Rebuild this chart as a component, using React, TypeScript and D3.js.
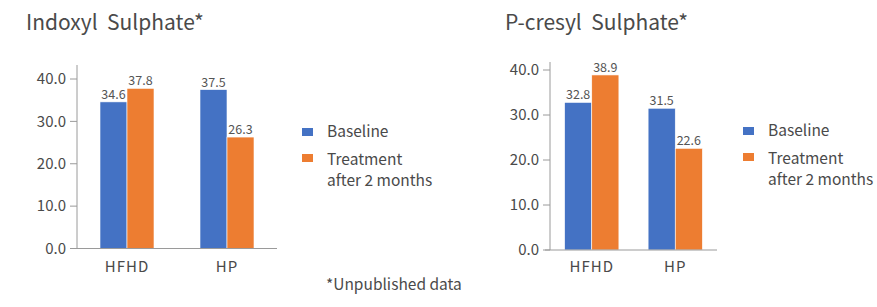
import React from "react";
import * as d3 from "d3";

const categories = ["HFHD", "HP"];
const seriesNames = ["Baseline", "Treatment after 2 months"];
const indoxylBaseline = [34.6, 37.5];
const indoxylTreatment = [37.8, 26.3];
const cresylBaseline = [32.8, 31.5];
const cresylTreatment = [38.9, 22.6];
const yTicks = [0, 10, 20, 30, 40];
const colors = ["#4472C4", "#ED7D31"];

const font = "'Noto Sans CJK SC', 'Noto Sans', sans-serif";
const textColor = "#4a4a4a";
const axisColor = "#9a9a9a";

type PanelProps = {
  title: string;
  titleX: number;
  baseline: number[];
  treatment: number[];
  xRange: [number, number];
  yRange: [number, number];
  axisTop: number;
  pad: number;
  legendX: number;
  legendY: number;
};

function Panel(p: PanelProps) {
  const x0 = d3
    .scaleBand()
    .domain(categories)
    .range(p.xRange)
    .paddingInner(p.pad)
    .paddingOuter(p.pad / 2);
  const x1 = d3.scaleBand().domain(seriesNames).range([0, x0.bandwidth()]);
  const y = d3.scaleLinear().domain([0, 40]).range(p.yRange);
  const axisX = p.xRange[0];
  const series = [p.baseline, p.treatment];

  return (
    <g>
      <text x={p.titleX} y={30} fontSize={21} fill={textColor} style={{ whiteSpace: "pre" }}>
        {p.title}
      </text>
      {/* y axis */}
      <line x1={axisX} x2={axisX} y1={p.axisTop} y2={y(0)} stroke={axisColor} />
      {yTicks.map((t) => (
        <g key={t}>
          <line x1={axisX - 7} x2={axisX} y1={y(t)} y2={y(t)} stroke={axisColor} />
          <text x={axisX - 11} y={y(t)} dy="0.35em" textAnchor="end" fontSize={15} fill={textColor}>
            {d3.format(".1f")(t)}
          </text>
        </g>
      ))}
      {/* bars */}
      {categories.map((c, i) => (
        <g key={c} transform={`translate(${x0(c)},0)`}>
          {seriesNames.map((s, j) => {
            const v = series[j][i];
            return (
              <g key={s}>
                <rect
                  x={x1(s)}
                  y={y(v)}
                  width={x1.bandwidth()}
                  height={y(0) - y(v)}
                  fill={colors[j]}
                  stroke="#fff"
                  strokeWidth={0.6}
                />
                <text
                  x={(x1(s) ?? 0) + x1.bandwidth() / 2}
                  y={y(v) - 3}
                  textAnchor="middle"
                  fontSize={12.5}
                  fill="#555"
                >
                  {v.toFixed(1)}
                </text>
              </g>
            );
          })}
          <text x={x0.bandwidth() / 2} y={272} textAnchor="middle" fontSize={15} fill={textColor} letterSpacing={1}>
            {c}
          </text>
        </g>
      ))}
      {/* x axis */}
      <line x1={axisX - 5} x2={p.xRange[1]} y1={y(0)} y2={y(0)} stroke={axisColor} />
      {/* legend */}
      <g transform={`translate(${p.legendX},${p.legendY})`} fontSize={15.5} fill={textColor}>
        <rect x={0} y={-9} width={11} height={8} fill={colors[0]} />
        <text x={25} y={0}>Baseline</text>
        <rect x={0} y={17} width={11} height={8} fill={colors[1]} />
        <text x={25} y={28}>Treatment</text>
        <text x={25} y={49}>after 2 months</text>
      </g>
    </g>
  );
}

export default function App() {
  return (
    <svg width={877} height={307} style={{ position: "absolute", left: 0, top: 0, fontFamily: font }}>
      <rect width={877} height={307} fill="#fff" />
      <Panel
        title={"Indoxyl  Sulphate*"}
        titleX={26}
        baseline={indoxylBaseline}
        treatment={indoxylTreatment}
        xRange={[77, 277]}
        yRange={[248.5, 79]}
        axisTop={65}
        pad={0.46}
        legendX={302}
        legendY={137}
      />
      <Panel
        title={"P-cresyl  Sulphate*"}
        titleX={505}
        baseline={cresylBaseline}
        treatment={cresylTreatment}
        xRange={[550, 717]}
        yRange={[250, 70]}
        axisTop={62}
        pad={0.35}
        legendX={743}
        legendY={136}
      />
      <text x={326} y={290} fontSize={15.5} fill={textColor}>
        *Unpublished data
      </text>
    </svg>
  );
}
